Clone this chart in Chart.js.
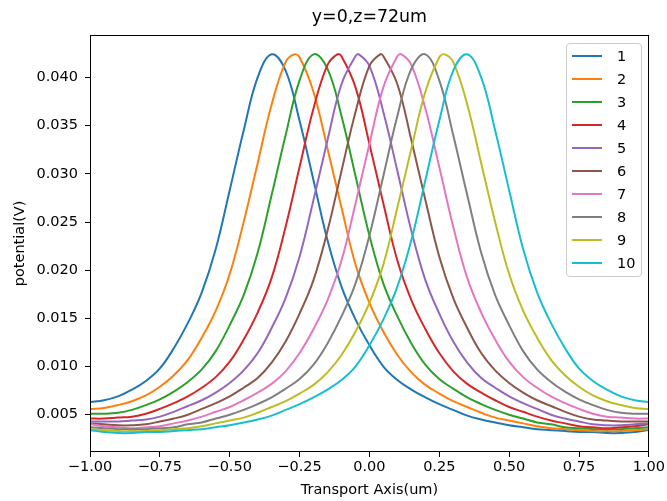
<!DOCTYPE html>
<html>
<head>
<meta charset="utf-8">
<title>y=0,z=72um</title>
<script src="https://cdn.jsdelivr.net/npm/chart.js@4.4.1/dist/chart.umd.min.js"></script>
<style>
  body { margin: 0; background: #fff; }
  #wrap { position: relative; width: 667px; height: 501px; }
  #legend {
    position: absolute; left: 566px; top: 43px; width: 76px;
    box-sizing: border-box; padding: 0 0 2px 0;
    border: 1px solid #cccccc; border-radius: 4px;
    background: rgba(255, 255, 255, 0.8);
    font-family: 'DejaVu Sans', sans-serif; font-size: 14.5px; color: #000;
  }
  .legend-row { height: 23px; display: flex; align-items: center; }
  .legend-line { width: 30px; height: 2px; margin-left: 5px; margin-right: 15px; }
</style>
</head>
<body>
<div id="wrap">
  <canvas id="chart" width="667" height="501"></canvas>
  <div id="legend"></div>
</div>
<script>
// --- Data ---
const xs = [-1.00, -0.95, -0.90, -0.85, -0.80, -0.75, -0.70, -0.65, -0.60, -0.55,
            -0.50, -0.45, -0.40, -0.35, -0.30, -0.25, -0.20, -0.15, -0.10, -0.05,
             0.00,  0.05,  0.10,  0.15,  0.20,  0.25,  0.30,  0.35,  0.40,  0.45,
             0.50,  0.55,  0.60,  0.65,  0.70,  0.75,  0.80,  0.85,  0.90,  0.95, 1.00];

const labels = ['1', '2', '3', '4', '5', '6', '7', '8', '9', '10'];
const colors = ['#1f77b4', '#ff7f0e', '#2ca02c', '#d62728', '#9467bd',
                '#8c564b', '#e377c2', '#7f7f7f', '#bcbd22', '#17becf'];

// peak position of each curve
const peakX = [-0.346, -0.269, -0.192, -0.115, -0.038, 0.038, 0.115, 0.192, 0.269, 0.346];
const peakY = [0.0424, 0.0424, 0.0424, 0.0424, 0.0424, 0.0424, 0.0424, 0.0424, 0.0424, 0.0424];

const s1 = [0.0063, 0.0065, 0.0069, 0.0076, 0.0085, 0.0098, 0.0119, 0.0145, 0.0177, 0.0222,
            0.0283, 0.0345, 0.0400, 0.0424, 0.0407, 0.0355, 0.0293, 0.0231, 0.0183, 0.0149,
            0.0122, 0.0100, 0.0086, 0.0076, 0.0068, 0.0061, 0.0055, 0.0049, 0.0045, 0.0042,
            0.0039, 0.0037, 0.0035, 0.0034, 0.0033, 0.0032, 0.0032, 0.0031, 0.0031, 0.0032, 0.0034];
const s2 = [0.0056, 0.0057, 0.0060, 0.0064, 0.0070, 0.0079, 0.0091, 0.0107, 0.0130, 0.0158,
            0.0196, 0.0250, 0.0311, 0.0372, 0.0416, 0.0421, 0.0385, 0.0326, 0.0265, 0.0206,
            0.0166, 0.0136, 0.0112, 0.0094, 0.0081, 0.0072, 0.0064, 0.0058, 0.0052, 0.0047,
            0.0044, 0.0041, 0.0038, 0.0036, 0.0035, 0.0034, 0.0033, 0.0033, 0.0033, 0.0034, 0.0035];
const s3 = [0.0051, 0.0051, 0.0052, 0.0055, 0.0060, 0.0066, 0.0074, 0.0084, 0.0097, 0.0116,
            0.0143, 0.0174, 0.0218, 0.0278, 0.0340, 0.0397, 0.0424, 0.0409, 0.0360, 0.0298,
            0.0236, 0.0186, 0.0152, 0.0124, 0.0102, 0.0087, 0.0077, 0.0068, 0.0061, 0.0055,
            0.0050, 0.0046, 0.0042, 0.0040, 0.0037, 0.0036, 0.0035, 0.0035, 0.0035, 0.0036, 0.0037];
const s4 = [0.0046, 0.0046, 0.0047, 0.0048, 0.0051, 0.0056, 0.0062, 0.0069, 0.0078, 0.0089,
            0.0105, 0.0128, 0.0156, 0.0192, 0.0245, 0.0307, 0.0368, 0.0413, 0.0422, 0.0390,
            0.0331, 0.0269, 0.0210, 0.0169, 0.0139, 0.0114, 0.0095, 0.0082, 0.0073, 0.0065,
            0.0058, 0.0053, 0.0048, 0.0044, 0.0041, 0.0038, 0.0037, 0.0036, 0.0037, 0.0038, 0.0040];
const s5 = [0.0043, 0.0043, 0.0043, 0.0044, 0.0045, 0.0048, 0.0053, 0.0059, 0.0065, 0.0073,
            0.0083, 0.0096, 0.0114, 0.0140, 0.0171, 0.0214, 0.0273, 0.0335, 0.0393, 0.0422,
            0.0412, 0.0364, 0.0303, 0.0241, 0.0190, 0.0155, 0.0126, 0.0104, 0.0088, 0.0078,
            0.0069, 0.0062, 0.0056, 0.0050, 0.0046, 0.0043, 0.0040, 0.0039, 0.0039, 0.0040, 0.0041];
const s6 = [0.0041, 0.0040, 0.0039, 0.0039, 0.0040, 0.0043, 0.0046, 0.0050, 0.0056, 0.0062,
            0.0069, 0.0078, 0.0088, 0.0104, 0.0126, 0.0155, 0.0190, 0.0241, 0.0303, 0.0364,
            0.0412, 0.0422, 0.0393, 0.0335, 0.0273, 0.0214, 0.0171, 0.0140, 0.0114, 0.0096,
            0.0083, 0.0073, 0.0065, 0.0059, 0.0053, 0.0048, 0.0045, 0.0044, 0.0043, 0.0043, 0.0043];
const s7 = [0.0040, 0.0038, 0.0037, 0.0036, 0.0037, 0.0038, 0.0041, 0.0044, 0.0048, 0.0053,
            0.0058, 0.0065, 0.0073, 0.0082, 0.0095, 0.0114, 0.0139, 0.0169, 0.0210, 0.0269,
            0.0331, 0.0390, 0.0422, 0.0413, 0.0368, 0.0307, 0.0245, 0.0192, 0.0156, 0.0128,
            0.0105, 0.0089, 0.0078, 0.0069, 0.0062, 0.0056, 0.0051, 0.0048, 0.0047, 0.0046, 0.0046];
const s8 = [0.0037, 0.0036, 0.0035, 0.0035, 0.0035, 0.0036, 0.0037, 0.0040, 0.0042, 0.0046,
            0.0050, 0.0055, 0.0061, 0.0068, 0.0077, 0.0087, 0.0102, 0.0124, 0.0152, 0.0186,
            0.0236, 0.0298, 0.0360, 0.0409, 0.0424, 0.0397, 0.0340, 0.0278, 0.0218, 0.0174,
            0.0143, 0.0116, 0.0097, 0.0084, 0.0074, 0.0066, 0.0060, 0.0055, 0.0052, 0.0051, 0.0051];
const s9 = [0.0035, 0.0034, 0.0033, 0.0033, 0.0033, 0.0034, 0.0035, 0.0036, 0.0038, 0.0041,
            0.0044, 0.0047, 0.0052, 0.0058, 0.0064, 0.0072, 0.0081, 0.0094, 0.0112, 0.0136,
            0.0166, 0.0206, 0.0265, 0.0326, 0.0385, 0.0421, 0.0416, 0.0372, 0.0311, 0.0250,
            0.0196, 0.0158, 0.0130, 0.0107, 0.0091, 0.0079, 0.0070, 0.0064, 0.0060, 0.0057, 0.0056];
const s10 = [0.0034, 0.0032, 0.0031, 0.0031, 0.0032, 0.0032, 0.0033, 0.0034, 0.0035, 0.0037,
             0.0039, 0.0042, 0.0045, 0.0049, 0.0055, 0.0061, 0.0068, 0.0076, 0.0086, 0.0100,
             0.0122, 0.0149, 0.0183, 0.0231, 0.0293, 0.0355, 0.0407, 0.0424, 0.0400, 0.0345,
             0.0283, 0.0222, 0.0177, 0.0145, 0.0119, 0.0098, 0.0085, 0.0076, 0.0069, 0.0065, 0.0063];
const series = [s1, s2, s3, s4, s5, s6, s7, s8, s9, s10];

const xTicks = [-1.00, -0.75, -0.50, -0.25, 0.00, 0.25, 0.50, 0.75, 1.00];
const yTicks = [0.005, 0.010, 0.015, 0.020, 0.025, 0.030, 0.035, 0.040];

// --- Chart ---
const FONT = 'DejaVu Sans';

// matplotlib-style box around the axes
const framePlugin = {
    id: 'frame',
    afterDatasetsDraw(chart) {
        const { ctx, chartArea: a } = chart;
        ctx.save();
        ctx.strokeStyle = '#000';
        ctx.lineWidth = 1;
        ctx.strokeRect(Math.round(a.left) + 0.5, Math.round(a.top) + 0.5,
                       Math.round(a.width) - 1, Math.round(a.height) - 1);
        ctx.restore();
    }
};

const datasets = series.map((ys, i) => {
    const pts = xs.map((x, j) => ({ x: x, y: ys[j] }));
    // add the peak itself unless a grid point already sits on it
    if (!xs.some(x => Math.abs(x - peakX[i]) < 0.01)) {
        pts.push({ x: peakX[i], y: peakY[i] });
        pts.sort((a, b) => a.x - b.x);
    }
    return {
        label: labels[i],
        data: pts,
        borderColor: colors[i],
        backgroundColor: colors[i],
        borderWidth: 2,
        pointRadius: 0,
        tension: 0.4,
        fill: false,
        order: series.length - 1 - i   // later curves on top, like matplotlib
    };
});

const minus = v => (v < 0 ? '\u2212' : '') + Math.abs(v).toFixed(2);

new Chart(document.getElementById('chart').getContext('2d'), {
    type: 'line',
    data: { datasets },
    options: {
        responsive: false,
        devicePixelRatio: 1,
        animation: false,
        events: [],
        layout: { padding: { top: 0, right: 17, bottom: 0, left: 0 } },
        scales: {
            x: {
                type: 'linear',
                min: -1,
                max: 1,
                afterFit: s => { s.height = 49; },
                afterBuildTicks: s => { s.ticks = xTicks.map(v => ({ value: v })); },
                grid: { display: true, drawOnChartArea: false, drawTicks: true, tickLength: 5, color: '#000' },
                border: { display: false },
                ticks: {
                    autoSkip: false, maxRotation: 0, padding: 2,
                    color: '#000', font: { family: FONT, size: 14.5 },
                    callback: v => minus(v)
                },
                title: {
                    display: true, text: 'Transport Axis(um)', color: '#000',
                    font: { family: FONT, size: 14.5 }, padding: { top: 0, bottom: 2 }
                }
            },
            y: {
                min: 0.00113,
                max: 0.04442,
                afterFit: s => { s.width = 90; },
                afterBuildTicks: s => { s.ticks = yTicks.map(v => ({ value: v })); },
                grid: { display: true, drawOnChartArea: false, drawTicks: true, tickLength: 5, color: '#000' },
                border: { display: false },
                ticks: {
                    padding: 7, color: '#000', font: { family: FONT, size: 14.5 },
                    callback: v => v.toFixed(3)
                },
                title: {
                    display: true, text: 'potential(V)', color: '#000',
                    font: { family: FONT, size: 14.5 }, padding: { top: 12, bottom: 0 }
                }
            }
        },
        plugins: {
            legend: { display: false },
            tooltip: { enabled: false },
            title: {
                display: true,
                fullSize: false,
                text: 'y=0,z=72um',
                color: '#000',
                font: { family: FONT, size: 17.4, weight: 'normal', lineHeight: 1.2 },
                padding: { top: 7, bottom: 7 }
            }
        }
    },
    plugins: [framePlugin]
});

// --- Legend (upper right, inside the axes) ---
const legendBox = document.getElementById('legend');
labels.forEach((name, i) => {
    const row = document.createElement('div');
    row.className = 'legend-row';
    const line = document.createElement('span');
    line.className = 'legend-line';
    line.style.background = colors[i];
    const text = document.createElement('span');
    text.textContent = name;
    row.appendChild(line);
    row.appendChild(text);
    legendBox.appendChild(row);
});
</script>
</body>
</html>
